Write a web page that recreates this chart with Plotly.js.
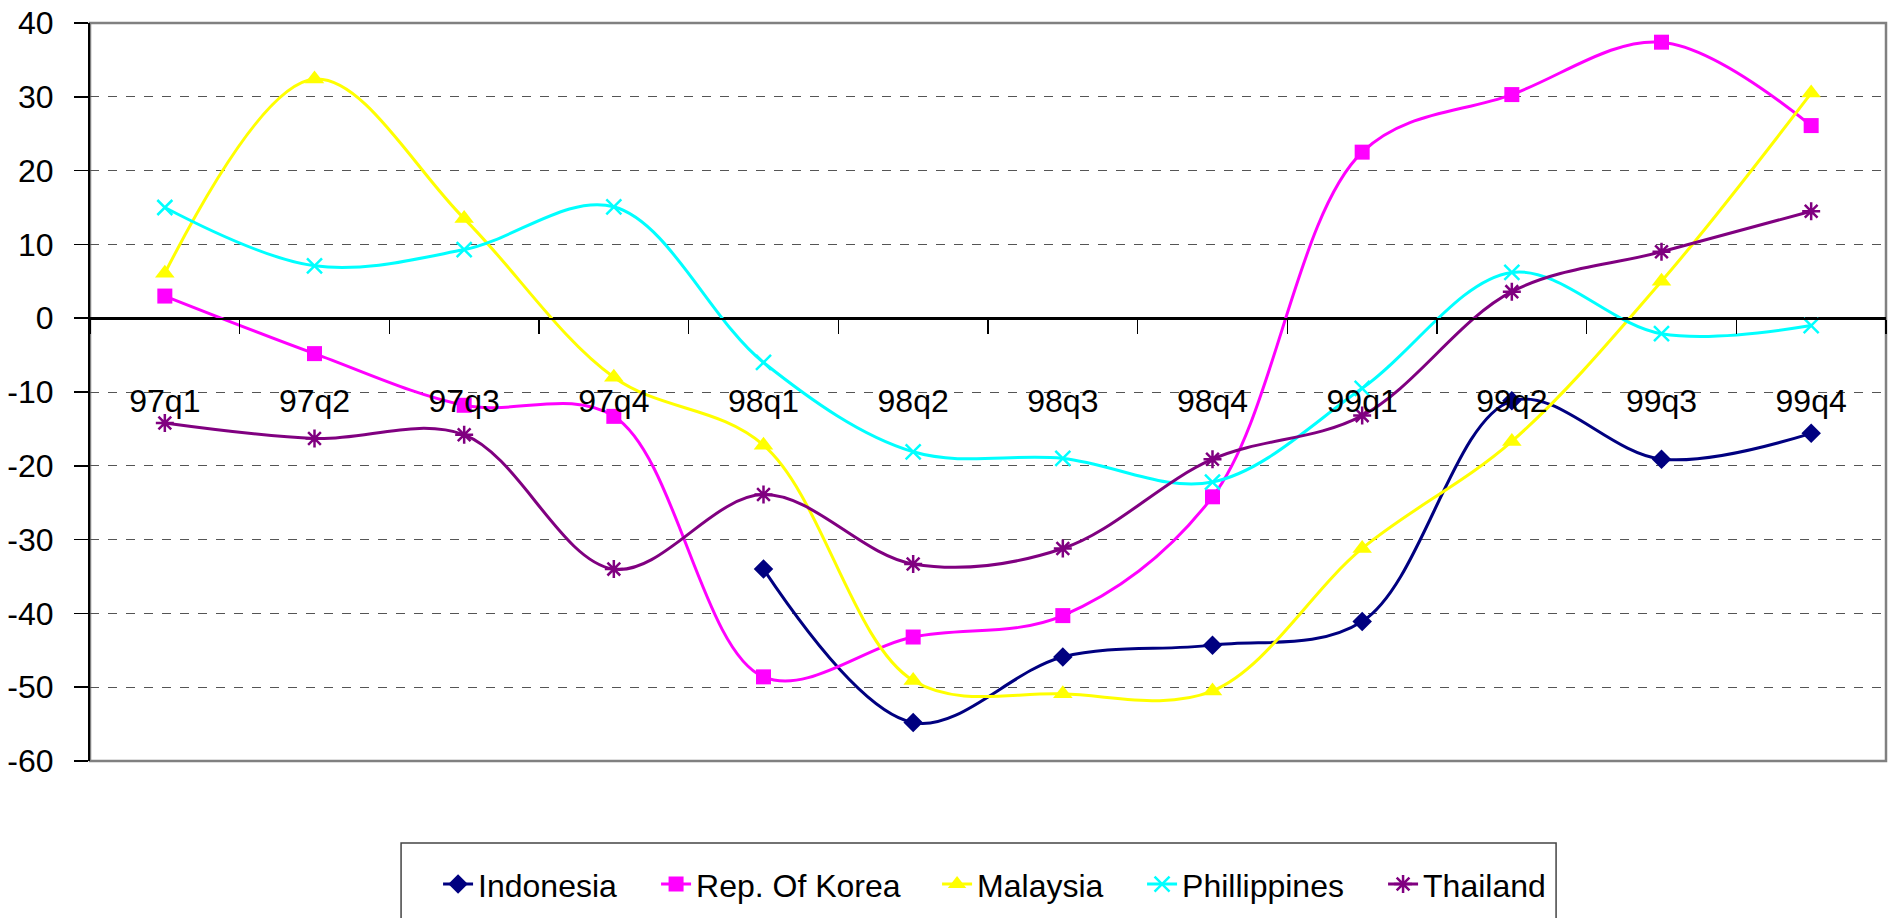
<!DOCTYPE html>
<html>
<head>
<meta charset="utf-8">
<script src="https://cdn.plot.ly/plotly-3.0.1.min.js"></script>
<style>
html,body{margin:0;padding:0;background:#fff;}
#chart{width:1890px;height:918px;}
</style>
</head>
<body>
<div id="chart"></div>
<script>
var quarters = ["97q1","97q2","97q3","97q4","98q1","98q2","98q3","98q4","99q1","99q2","99q3","99q4"];
var indonesia   = [null, null, null, null, -34.0, -54.8, -45.9, -44.3, -41.1, -11.2, -19.1, -15.6];
var korea       = [3.0, -4.8, -11.8, -13.3, -48.6, -43.2, -40.3, -24.2, 22.5, 30.3, 37.4, 26.1];
var malaysia    = [6.1, 32.4, 13.5, -8.0, -17.2, -49.1, -50.9, -50.5, -31.2, -16.7, 5.0, 30.5];
var philippines = [15.0, 7.1, 9.3, 15.1, -6.0, -18.1, -19.0, -22.2, -9.5, 6.2, -2.1, -1.0];
var thailand    = [-14.2, -16.3, -15.8, -34.0, -23.9, -33.3, -31.2, -19.1, -13.2, 3.6, 9.0, 14.5];
var yTicks = [-60,-50,-40,-30,-20,-10,0,10,20,30,40];
var yTickLabels = ["-60","-50","-40","-30","-20","-10","0","10","20","30","40"];

function tr(name, data, color, symbol, msize, open, lw) {
  var m = {symbol: symbol, size: msize, color: color};
  if (open) { m.line = {color: color, width: 2.5}; }
  return {
    type: 'scatter', mode: 'lines+markers', name: name,
    x: quarters, y: data,
    line: {color: color, width: 3, shape: 'spline', smoothing: 1},
    marker: m, connectgaps: false, legendwidth: lw
  };
}

var traces = [
  tr('Indonesia', indonesia, '#000080', 'diamond', 15, false, 173),
  tr('Rep. Of Korea', korea, '#FF00FF', 'square', 15, false, 236),
  tr('Malaysia', malaysia, '#FFFF00', 'triangle-up', 17, false, 160),
  tr('Phillippines', philippines, '#00FFFF', 'x-thin-open', 15, true, 196),
  tr('Thailand', thailand, '#800080', 'asterisk-open', 15, true, 130)
];

var layout = {
  width: 1890, height: 918,
  margin: {l: 90, r: 4, t: 23, b: 157},
  paper_bgcolor: '#fff', plot_bgcolor: '#fff',
  font: {family: 'Liberation Sans, Arial, sans-serif', size: 32, color: '#000'},
  showlegend: true,
  xaxis: {
    type: 'category', range: [-0.5, 11.5],
    anchor: 'free', position: 0.6,
    showline: true, linecolor: '#000', linewidth: 1.5,
    ticks: 'outside', ticklen: 14, tickwidth: 1.5, tickcolor: '#000',
    tickson: 'boundaries', showgrid: false, zeroline: false,
    ticklabelstandoff: 54,
    tickfont: {size: 32, color: '#000'}
  },
  yaxis: {
    range: [-60, 40], tickmode: 'array', tickvals: yTicks, ticktext: yTickLabels,
    showline: true, linecolor: '#000', linewidth: 2,
    ticks: 'outside', ticklen: 14, tickwidth: 1.5, tickcolor: '#000',
    showgrid: true, gridcolor: '#555', griddash: 'dash', gridwidth: 1,
    zeroline: true, zerolinecolor: '#000', zerolinewidth: 1.5,
    ticklabelstandoff: 14,
    tickfont: {size: 32, color: '#000'}
  },
  legend: {
    orientation: 'h', x: 0.1938, xanchor: 'left',
    y: -0.167, yanchor: 'middle',
    bgcolor: 'rgba(0,0,0,0)', borderwidth: 0,
    font: {size: 32, color: '#000'}
  },
  shapes: [
    {type: 'rect', xref: 'paper', yref: 'paper', x0: 0, x1: 1, y0: 0, y1: 1,
     line: {color: '#808080', width: 2.5}, layer: 'below'},
    {type: 'rect', xref: 'paper', yref: 'paper', x0: 0.1732, x1: 0.8163, y0: -0.1111, y1: -0.235,
     line: {color: '#444', width: 1.5}, fillcolor: 'rgba(0,0,0,0)', layer: 'below'}
  ]
};

Plotly.newPlot('chart', traces, layout, {displayModeBar: false, staticPlot: true});
</script>
</body>
</html>
